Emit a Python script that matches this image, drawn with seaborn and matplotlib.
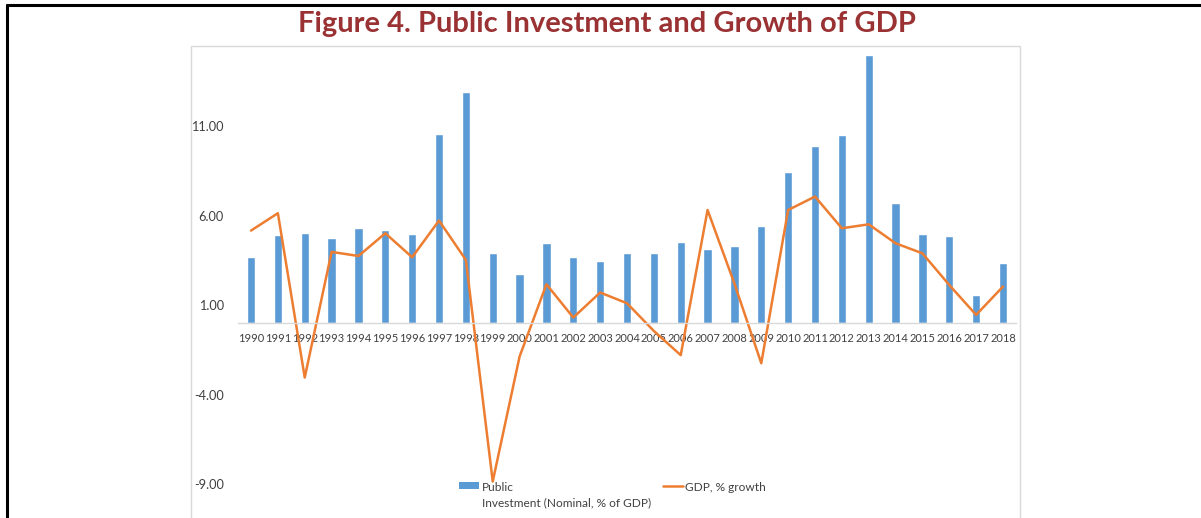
import numpy as np
import pandas as pd
import matplotlib
matplotlib.use("Agg")
import matplotlib.pyplot as plt
from matplotlib.patches import Rectangle, Patch
from matplotlib.lines import Line2D
import seaborn as sns

# values
years = [str(y) for y in range(1990, 2019)]
public_investment = [3.67, 4.93, 5.05, 4.75, 5.31, 5.18, 4.99, 10.56, 12.89, 3.89,
                     2.75, 4.45, 3.70, 3.48, 3.93, 3.89, 4.51, 4.15, 4.30, 5.40,
                     8.42, 9.87, 10.49, 14.97, 6.72, 4.99, 4.88, 1.55, 3.33]
gdp_growth = [5.16, 6.13, -3.05, 3.97, 3.74, 5.01, 3.67, 5.72, 3.52, -8.86,
              -1.88, 2.16, 0.30, 1.70, 1.10, -0.45, -1.80, 6.31, 2.20, -2.25,
              6.31, 7.06, 5.29, 5.51, 4.45, 3.89, 2.12, 0.45, 2.03]
y_ticks = [-9, -4, 1, 6, 11]

df = pd.DataFrame({"year": years, "invest": public_investment, "gdp": gdp_growth})

sns.set_theme(style="white")
plt.rcParams["font.family"] = ["Lato", "DejaVu Sans"]

W, H = 1201, 518
fig = plt.figure(figsize=(W / 100, H / 100), dpi=100)

# outer frame and chart box
fig.add_artist(Line2D([7 / W, 7 / W], [0, (H - 5) / H], transform=fig.transFigure,
                      color="black", lw=2.2))
fig.add_artist(Line2D([7 / W, 1], [(H - 5) / H, (H - 5) / H], transform=fig.transFigure,
                      color="black", lw=2.2))
fig.add_artist(Rectangle((191 / W, -0.01), (1020 - 191) / W, (H - 46) / H + 0.01,
                         transform=fig.transFigure, fill=False, edgecolor="#D9D9D9", lw=1))

fig.text(607 / W, (H - 24) / H, "Figure 4. Public Investment and Growth of GDP",
         ha="center", va="center", fontsize=21, fontweight="bold", color="#9A3234")

ax = fig.add_axes([237.6 / W, (H - 484) / H, (1016.4 - 237.6) / W, 434 / H])
sns.barplot(data=df, x="year", y="invest", color="#5B9BD5", saturation=1,
            width=0.31, ax=ax)
sns.lineplot(data=df, x="year", y="gdp", color="#ED7D31", lw=1.8, ax=ax, sort=False)

ax.set_xlim(-0.5, len(years) - 0.5)
ax.set_ylim(-9, 15.25)
ax.set_yticks(y_ticks)
ax.set_yticklabels([f"{v:.2f}" for v in y_ticks])
ax.set_xlabel("")
ax.set_ylabel("")
for s in ["top", "right", "left"]:
    ax.spines[s].set_visible(False)
ax.spines["bottom"].set_position(("data", 0))
ax.spines["bottom"].set_color("#D9D9D9")
ax.spines["bottom"].set_linewidth(1)
ax.tick_params(axis="x", length=0, pad=7, labelsize=8.0, labelcolor="#404040")
ax.tick_params(axis="y", length=0, pad=10, labelsize=9.2, labelcolor="#404040")
ax.patch.set_alpha(0)

handles = [Patch(facecolor="#5B9BD5", edgecolor="none"),
           Line2D([], [], color="#ED7D31", lw=1.8)]
labels = ["Public\nInvestment (Nominal, % of GDP)", "GDP, % growth"]
leg = fig.legend(handles, labels, ncol=2, frameon=False, fontsize=8.6,
                 loc="upper left", bbox_to_anchor=(459 / W, (H - 482) / H),
                 handlelength=1.7, handleheight=0.55, handletextpad=0.2,
                 columnspacing=1.0, borderaxespad=0, borderpad=0)
for t in leg.get_texts():
    t.set_color("#404040")
    t.set_linespacing(1.45)
box = leg._legend_handle_box
box.align = "top"
for col in box.get_children():
    for item in col.get_children():
        item.align = "top"

fig.savefig("out.png", dpi=100)
